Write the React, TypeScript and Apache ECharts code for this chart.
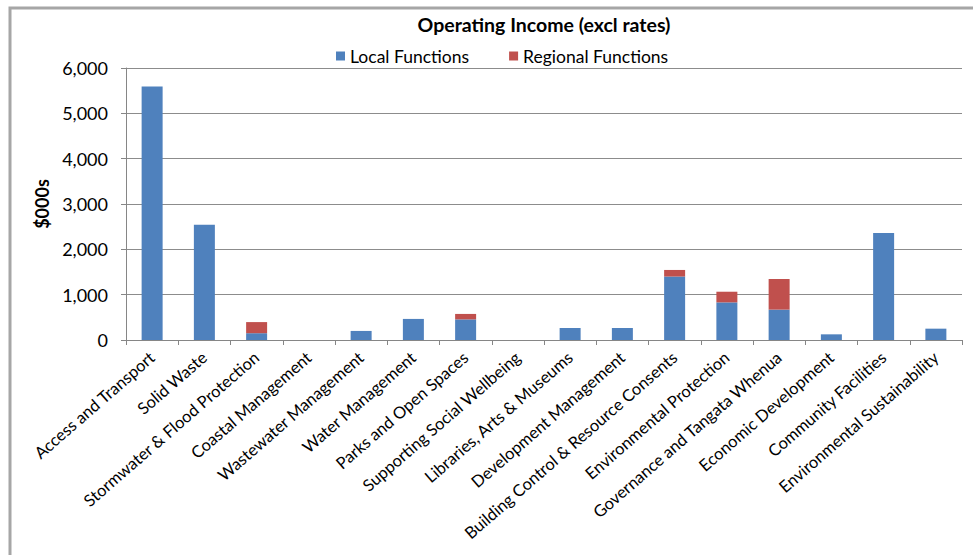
import React, { useEffect, useRef } from "react";
import * as echarts from "echarts";

const categories = [
  "Access and Transport",
  "Solid Waste",
  "Stormwater & Flood Protection",
  "Coastal Management",
  "Wastewater Management",
  "Water Management",
  "Parks and Open Spaces",
  "Supporting Social Wellbeing",
  "Libraries, Arts & Museums",
  "Development Management",
  "Building Control & Resource Consents",
  "Environmental Protection",
  "Governance and Tangata Whenua",
  "Economic Development",
  "Community Facilities",
  "Environmental Sustainability",
];

const localFunctions = [5590, 2540, 150, 0, 200, 465, 455, 0, 265, 265, 1400, 830, 670, 125, 2360, 250];
const regionalFunctions = [0, 0, 245, 0, 0, 0, 120, 0, 0, 0, 145, 235, 675, 0, 0, 0];

const yTicks = { min: 0, max: 6000, interval: 1000 };

const FONT = "Lato, 'Open Sans', sans-serif";

export default function App() {
  const ref = useRef<HTMLDivElement>(null);
  useEffect(() => {
    if (!ref.current) return;
    const chart = echarts.init(ref.current, undefined, { renderer: "svg" });
    chart.setOption({
      animation: false,
      backgroundColor: "#ffffff",
      textStyle: { fontFamily: FONT },
      title: {
        text: "Operating Income (excl rates)",
        left: 539,
        top: 9,
        textAlign: "center",
        textStyle: { fontFamily: FONT, fontSize: 19.5, fontWeight: "bold", color: "#000" },
      },
      legend: {
        top: 42,
        left: 331,
        itemWidth: 9,
        itemHeight: 9,
        itemGap: 40,
        icon: "rect",
        textStyle: { fontFamily: FONT, fontSize: 17.5, color: "#000" },
        data: ["Local Functions", "Regional Functions"],
      },
      graphic: [
        {
          type: "rect",
          shape: { x: 10, y: 8, width: 980, height: 600 },
          style: { fill: "none", stroke: "#a6a6a6", lineWidth: 3 },
          silent: true,
        },
      ],
      grid: { left: 126, right: 11, top: 68, bottom: 215, containLabel: false },
      xAxis: {
        type: "category",
        data: categories,
        boundaryGap: true,
        axisLine: { lineStyle: { color: "#868686", width: 1 } },
        axisTick: { show: true, alignWithLabel: false, length: 5, lineStyle: { color: "#868686" } },
        axisLabel: {
          interval: 0,
          rotate: 41,
          margin: 15,
          fontFamily: FONT,
          fontSize: 16.5,
          color: "#000",
        },
      },
      yAxis: {
        type: "value",
        min: yTicks.min,
        max: yTicks.max,
        interval: yTicks.interval,
        name: "$000s",
        nameLocation: "middle",
        nameGap: 72,
        nameRotate: 90,
        nameTextStyle: { fontFamily: FONT, fontSize: 18, fontWeight: "bold", color: "#000" },
        axisLine: { show: true, lineStyle: { color: "#868686", width: 1 } },
        axisTick: { show: true, inside: false, length: 5, lineStyle: { color: "#868686" } },
        splitLine: { show: true, lineStyle: { color: "#8c8c8c", width: 1 } },
        axisLabel: {
          margin: 18,
          fontFamily: FONT,
          fontSize: 18,
          color: "#000",
          formatter: (v: number) => v.toLocaleString("en-US"),
        },
      },
      series: [
        {
          name: "Local Functions",
          type: "bar",
          stack: "total",
          data: localFunctions,
          barWidth: 21,
          itemStyle: { color: "#4F81BD" },
        },
        {
          name: "Regional Functions",
          type: "bar",
          stack: "total",
          data: regionalFunctions,
          barWidth: 21,
          itemStyle: { color: "#C0504D" },
        },
      ],
    });
    return () => chart.dispose();
  }, []);
  return (
    <div
      ref={ref}
      style={{ position: "fixed", left: 0, top: 0, width: 973, height: 555 }}
    />
  );
}
